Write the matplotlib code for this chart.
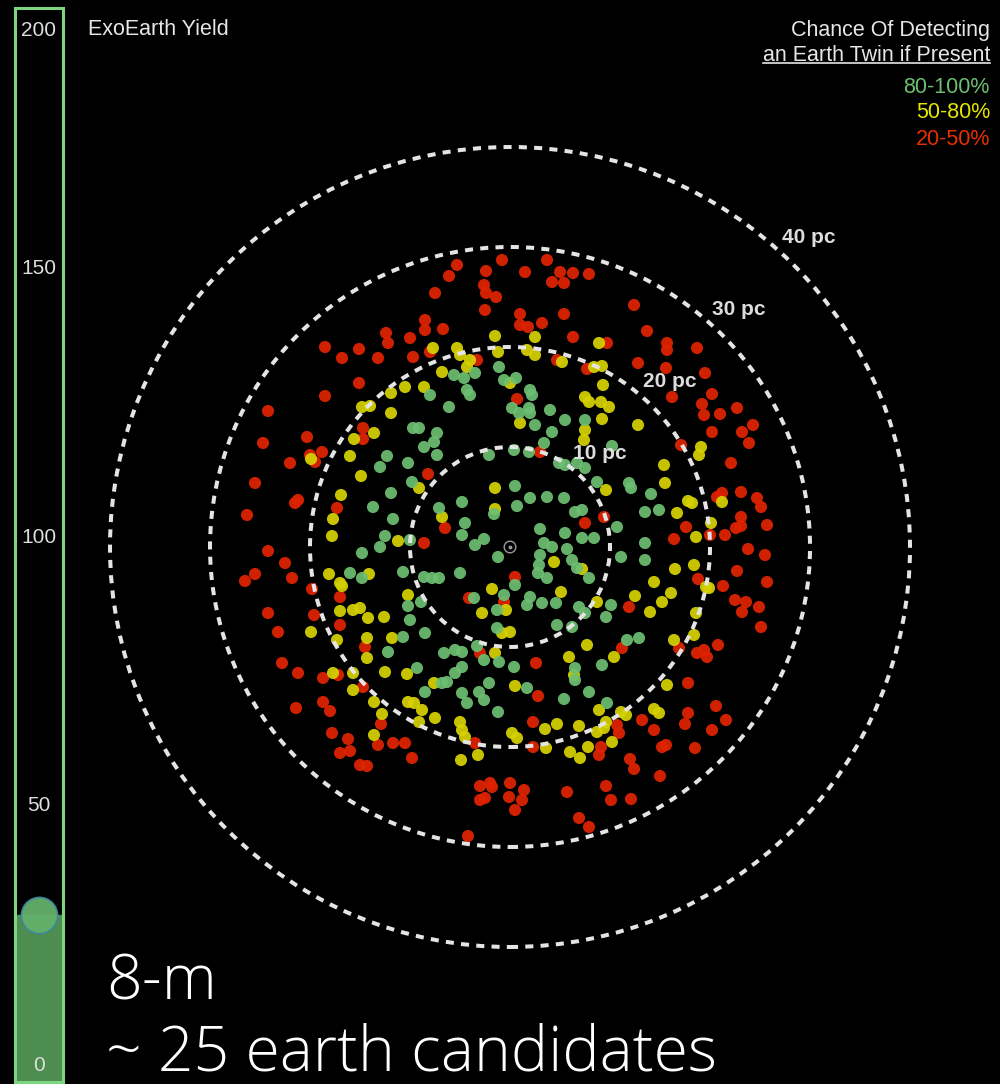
import numpy as np
import matplotlib
matplotlib.use("Agg")
import matplotlib.pyplot as plt
from matplotlib.patches import Circle
from matplotlib.lines import Line2D

plt.rcParams['font.family'] = ['Liberation Sans', 'DejaVu Sans']

# target stars, (east, north) offsets from the Sun in parsecs, grouped by completeness
green_pc = [
    (-9.7, 11.9), (-8.0, 15.2), (-5.6, 17.2), (-4.6, 16.9), (-3.5, 17.4), (-1.1, 18.0), (-0.6, 16.7),
    (0.6, 16.9), (-4.3, 15.7), (-4.0, 15.2), (2.0, 15.7), (2.2, 15.2), (-6.1, 14.0), (0.2, 13.9),
    (0.9, 13.4), (1.9, 13.9), (2.0, 13.4), (4.0, 13.7), (5.5, 12.7), (7.5, 12.7), (2.5, 12.2),
    (4.2, 11.5), (3.4, 10.4), (-9.1, 11.9), (-7.3, 11.4), (-7.6, 10.5), (-8.6, 10.0), (10.2, 10.1),
    (-12.3, 9.1), (-13.0, 8.0), (-10.2, 8.4), (-9.8, 6.5), (-11.9, 5.4), (-13.7, 4.0), (-11.7, 2.8),
    (-12.5, 1.1), (-13.0, 0.0), (-14.8, -0.6), (-10.0, 0.7), (-16.0, -2.6), (-14.8, -3.1), (-10.7, -2.5),
    (-10.2, -5.9), (-10.0, -7.3), (-10.7, -9.0), (-7.3, 9.2), (-2.1, 9.2), (0.4, 9.7), (1.9, 9.5),
    (5.5, 8.2), (4.9, 8.4), (6.7, 8.4), (7.5, 7.9), (0.5, 6.1), (-4.8, 4.5), (2.0, 4.9), (3.7, 5.0),
    (5.4, 4.9), (0.7, 4.1), (-1.6, 3.3), (-7.1, 3.9), (6.5, 3.5), (7.2, 3.7), (8.7, 6.5), (-4.5, 2.4),
    (3.0, 1.8), (5.5, 1.4), (7.2, 0.9), (8.4, 0.9), (-4.8, 1.2), (-2.6, 0.8), (-3.5, 0.2), (3.4, 0.4),
    (4.2, 0.0), (5.7, -0.2), (-1.2, -1.0), (3.0, -0.8), (2.9, -1.8), (6.2, -1.3), (6.7, -2.1),
    (7.9, -3.1), (-5.0, -2.6), (-8.6, -3.0), (-7.8, -3.1), (-7.1, -3.1), (2.8, -2.6), (3.7, -3.1),
    (0.5, -3.8), (-3.6, -5.1), (-0.6, -4.8), (-1.3, -6.3), (2.0, -5.0), (1.7, -5.8), (3.2, -5.6),
    (4.6, -5.6), (6.9, -6.0), (7.5, -6.6), (-8.9, -5.5), (-8.5, -8.6), (-1.3, -8.1), (4.7, -7.8),
    (6.2, -8.0), (-3.3, -9.9), (11.9, 6.4), (12.1, 5.9), (14.1, 5.3), (13.5, 3.5), (14.9, 3.7),
    (10.7, 2.0), (13.5, 0.4), (11.1, -1.0), (13.5, -1.3), (10.1, -5.8), (9.6, -7.0), (11.7, -9.3),
    (12.9, -9.1), (-12.2, -10.5), (-6.6, -10.6), (-5.5, -10.3), (-4.8, -10.5), (-2.6, -11.3),
    (-1.1, -11.5), (0.4, -12.0), (6.5, -12.1), (6.5, -13.3), (-9.3, -12.1), (-5.5, -12.6),
    (-4.8, -12.0), (-6.8, -13.6), (-6.3, -13.5), (-2.1, -13.6), (1.7, -14.1), (-8.5, -14.5),
    (-4.8, -14.6), (-3.1, -14.5), (-2.6, -15.3), (-4.3, -15.6), (5.4, -15.2), (7.9, -14.5),
    (-1.2, -16.5), (9.2, -11.8), (9.7, -15.6),
]

yellow_pc = [
    (-10.5, 16.0), (-11.9, 15.4), (-14.8, 14.0), (-14.0, 14.1), (-11.9, 13.4), (-13.6, 11.4),
    (-15.6, 10.8), (-1.5, 21.1), (2.5, 21.0), (8.9, 20.4), (-7.7, 19.9), (-5.3, 19.9), (-5.0, 19.2),
    (-1.2, 19.5), (1.7, 19.7), (2.5, 19.2), (-4.0, 18.7), (-4.3, 18.0), (5.2, 18.5), (8.4, 18.0),
    (-6.8, 17.5), (-8.6, 16.0), (0.0, 16.4), (7.5, 15.0), (7.9, 14.5), (7.5, 11.7), (7.4, 10.7),
    (1.0, 12.4), (9.2, 18.1), (9.3, 16.2), (9.1, 14.5), (9.9, 14.0), (9.2, 12.8), (12.8, 12.2),
    (19.1, 10.0), (-19.9, 8.8), (-16.0, 9.1), (-14.9, 7.1), (-16.9, 5.2), (-17.7, 2.8), (-17.8, 1.1),
    (-18.1, -2.7), (-17.0, -3.6), (-16.8, -3.9), (-15.7, -6.3), (-15.0, -6.1), (-14.2, -7.1),
    (-19.9, -8.5), (-17.3, -9.3), (-14.3, -9.1), (-11.8, -9.1), (-11.2, 0.6), (-14.1, -2.7),
    (-10.2, -4.8), (-17.0, -6.4), (-12.6, -7.0), (-9.1, 5.9), (-1.5, 5.9), (-1.5, 3.8), (-6.8, 3.0),
    (4.4, -1.5), (7.2, -2.2), (-1.8, -4.2), (-0.4, -6.3), (-2.8, -6.6), (5.1, -4.5), (8.7, -5.5),
    (-0.8, -8.6), (0.0, -8.5), (7.7, -9.8), (18.9, 9.2), (15.4, 8.2), (15.5, 6.4), (9.6, 5.7),
    (21.2, 4.5), (17.8, 4.6), (18.2, 4.4), (16.7, 3.4), (20.1, 2.4), (18.6, 1.0), (16.5, -2.2),
    (18.4, -1.8), (19.6, -4.0), (19.9, -4.1), (14.4, -3.5), (16.1, -4.6), (12.5, -4.9), (15.2, -5.5),
    (14.0, -6.5), (18.6, -6.6), (16.4, -9.3), (18.4, -8.8), (-17.7, -12.6), (-15.7, -12.6),
    (-15.7, -14.3), (-14.3, -11.1), (-12.5, -12.5), (-10.3, -12.7), (-13.6, -15.5), (-10.2, -15.5),
    (-12.8, -16.7), (-13.6, -18.8), (-1.5, -10.6), (5.9, -11.0), (6.4, -12.8), (-7.6, -13.6),
    (0.5, -13.9), (-9.6, -15.6), (-8.8, -16.3), (8.9, -16.3), (-7.5, -17.1), (-5.0, -17.5),
    (-4.8, -18.3), (-4.5, -19.0), (4.7, -17.7), (3.5, -18.2), (6.9, -17.9), (8.7, -18.5),
    (-9.1, -17.5), (0.2, -18.6), (0.7, -19.1), (3.6, -20.1), (6.0, -20.5), (7.8, -20.0), (7.0, -21.1),
    (-3.2, -20.8), (-4.9, -21.3), (10.4, -11.0), (15.7, -13.8), (11.1, -16.5), (11.6, -16.8),
    (14.4, -16.2), (14.9, -16.6), (9.6, -17.5), (9.4, -18.1), (10.2, -19.5),
]

red_pc = [
    (-12.4, 21.4), (-12.2, 20.4), (-10.0, 20.9), (-18.5, 20.0), (-15.1, 19.8), (-16.8, 18.9),
    (-13.2, 18.9), (-9.7, 19.0), (-15.1, 16.4), (-18.5, 15.1), (-24.2, 13.6), (-14.7, 11.9),
    (-14.7, 10.8), (-20.3, 11.0), (-24.7, 10.4), (-0.8, 28.7), (-5.3, 28.2), (-6.1, 27.1),
    (-2.4, 27.6), (1.5, 27.5), (3.7, 28.7), (5.0, 27.5), (6.3, 27.4), (7.9, 27.3), (4.2, 26.5),
    (5.4, 26.4), (-7.5, 25.4), (-2.6, 26.2), (-2.4, 25.4), (-1.4, 25.0), (-2.5, 23.7), (1.0, 23.3),
    (1.0, 22.2), (1.8, 22.0), (3.2, 22.4), (5.4, 23.3), (6.3, 21.0), (-8.5, 22.7), (-8.5, 21.7),
    (-6.7, 21.8), (-8.0, 19.5), (-3.3, 18.7), (4.7, 18.7), (7.7, 17.8), (0.7, 14.8), (9.7, 20.4),
    (12.4, 24.2), (13.7, 21.6), (15.7, 20.4), (15.7, 19.7), (18.7, 19.9), (12.8, 18.4), (15.6, 17.9),
    (19.5, 17.4), (16.2, 15.0), (20.2, 15.3), (19.2, 14.3), (19.4, 13.2), (21.0, 13.3), (22.7, 13.9),
    (24.3, 12.2), (23.2, 11.5), (20.2, 11.5), (23.9, 10.4), (17.1, 10.2), (-22.0, 8.4), (-25.5, 6.4),
    (-21.2, 4.7), (-21.5, 4.4), (-26.3, 3.2), (-24.2, -0.4), (-22.5, -1.6), (-25.5, -2.7),
    (-26.5, -3.4), (-21.8, -3.1), (-24.2, -6.6), (-23.2, -8.5), (-20.0, 9.2), (-19.5, 8.5),
    (-18.8, 9.5), (-17.3, 3.9), (-19.8, -4.2), (-17.0, -5.0), (-19.6, -6.8), (-17.0, -7.8),
    (-14.5, -10.0), (3.0, 9.5), (-8.2, 7.3), (-6.5, 1.9), (7.5, 2.4), (-8.6, 0.4), (0.5, -3.0),
    (-4.1, -5.1), (-0.6, -5.5), (22.1, 8.4), (23.1, 5.5), (20.7, 5.0), (21.2, 5.4), (24.7, 4.9),
    (25.1, 4.0), (9.4, 3.0), (23.1, 3.0), (22.6, 1.9), (23.1, 2.1), (25.7, 2.2), (17.6, 2.0),
    (20.0, 1.2), (21.5, 1.2), (16.4, 0.8), (23.8, -0.2), (25.5, -0.8), (22.7, -2.4), (18.8, -3.2),
    (21.3, -3.9), (25.7, -3.5), (22.5, -5.3), (23.6, -5.5), (23.2, -6.5), (24.9, -6.0), (11.9, -6.0),
    (25.1, -8.0), (20.8, -9.8), (16.9, -10.1), (11.2, -10.1), (-22.8, -11.6), (-21.2, -12.6),
    (-18.7, -13.1), (-17.2, -12.8), (-14.7, -14.0), (-21.4, -16.1), (-18.7, -15.5), (-18.0, -16.4),
    (-12.9, -17.7), (-17.8, -18.6), (-16.2, -19.2), (-13.2, -19.8), (-17.0, -20.6), (-16.0, -20.4),
    (-11.7, -19.6), (-10.5, -19.6), (-9.8, -21.1), (-15.0, -21.8), (-14.3, -21.9), (-3.0, -10.6),
    (2.6, -11.6), (2.8, -14.9), (2.3, -17.5), (-3.5, -19.6), (2.3, -20.0), (8.9, -20.8), (-3.0, -23.9),
    (-2.0, -23.6), (-1.8, -24.0), (-3.0, -25.3), (-2.5, -25.1), (0.0, -23.6), (-0.1, -25.0),
    (1.4, -24.3), (1.2, -25.3), (0.5, -26.3), (5.7, -24.5), (6.9, -27.1), (7.9, -28.0), (-4.2, -28.9),
    (18.7, -10.6), (19.7, -11.0), (19.4, -10.3), (17.8, -13.6), (20.6, -15.9), (21.6, -17.3),
    (17.8, -16.6), (17.5, -17.7), (13.2, -17.3), (14.4, -18.3), (20.2, -18.3), (10.7, -17.8),
    (10.9, -18.6), (9.1, -20.0), (15.6, -19.8), (15.2, -20.0), (18.5, -20.1), (12.0, -21.2),
    (12.4, -22.2), (15.0, -22.9), (9.6, -23.9), (10.1, -25.3), (12.1, -25.2),
]

ring_radii = [10, 20, 30, 40]
ring_labels = ["10 pc", "20 pc", "30 pc", "40 pc"]

yield_ticks = [0, 50, 100, 150, 200]
exoearth_yield = 29.4

legend_labels = ["80-100%", "50-80%", "20-50%"]

GREEN = "#6cbf72"
YELLOW = "#d6d200"
RED = "#e02300"

fig = plt.figure(figsize=(10, 10.84), dpi=100, facecolor="black")

# ---- sky map ----
ax = fig.add_axes([0, 0, 1, 1])
ax.set_facecolor("black")
ax.set_xlim(-51, 49)
ax.set_ylim(-53.7, 54.7)
ax.axis("off")

for pts, col in [(red_pc, RED), (yellow_pc, YELLOW), (green_pc, GREEN)]:
    xy = np.array(pts)
    ax.scatter(xy[:, 0], xy[:, 1], s=76, color=col, edgecolors="none", alpha=0.93, zorder=2)

for r in ring_radii:
    ax.add_patch(Circle((0, 0), r, fill=False, ec="#e4e4e4", lw=2.9,
                        ls=(0, (2.0, 1.8)), zorder=3))

ang = np.deg2rad(46)
for r, lab in zip(ring_radii, ring_labels):
    ax.text((r + 3.0) * np.cos(ang), (r + 3.0) * np.sin(ang), lab, color="#dcdcdc",
            fontsize=15, fontweight="bold", ha="center", va="center", zorder=4)

# the Sun
ax.scatter([0], [0], s=70, facecolors="none", edgecolors="#9a9a9a", lw=1.0, zorder=4)
ax.scatter([0], [0], s=3, color="#9a9a9a", zorder=4)

# ---- yield gauge ----
gax = fig.add_axes([0.0145, 0.0018, 0.0485, 0.9908])
gax.set_facecolor("black")
gax.set_xlim(0, 1)
gax.set_ylim(-1.7, 198.0)
gax.set_xticks([])
gax.set_yticks([])
for sp in gax.spines.values():
    sp.set_color("#7dd67f")
    sp.set_linewidth(2.2)
gax.axhspan(-1.7, exoearth_yield, color="#4d8d50", zorder=1)
gax.scatter([0.5], [exoearth_yield], s=680, color="#63b06a", edgecolors="#3f86a2",
            lw=1.2, alpha=0.95, clip_on=False, zorder=3)
for v in yield_ticks:
    gax.text(0.5, np.clip(v, 1.7, 194.2), str(v), ha="center", va="center_baseline",
             color="#dedede", fontsize=15, zorder=4)

# ---- titles and legend ----
fig.text(0.088, 0.975, "ExoEarth Yield", color="#e6e6e6", fontsize=15.5,
         ha="left", va="center_baseline")
fig.text(0.990, 0.974, "Chance Of Detecting", color="#e6e6e6", fontsize=15.5,
         ha="right", va="center_baseline")
sub = fig.text(0.990, 0.951, "an Earth Twin if Present", color="#e6e6e6", fontsize=15.5,
               ha="right", va="center_baseline")
for lab, col, y in zip(legend_labels, [GREEN, "#e6e600", "#e83000"], [0.9216, 0.8985, 0.8736]):
    fig.text(0.990, y, lab, color=col, fontsize=15.5, ha="right", va="center_baseline")

fig.canvas.draw()
bb = sub.get_window_extent().transformed(fig.transFigure.inverted())
fig.add_artist(Line2D([bb.x0, bb.x1], [0.9415, 0.9415], transform=fig.transFigure,
                      color="#e6e6e6", lw=1.2))

big = dict(color="white", fontsize=45, fontfamily=["Open Sans", "DejaVu Sans"],
           fontweight="light", ha="left", va="baseline")
fig.text(0.106, 0.0775, "8-m", **big)
fig.text(0.106, 0.0125, "~ 25 earth candidates", **big)

fig.savefig("out.png", dpi=100, facecolor="black")
